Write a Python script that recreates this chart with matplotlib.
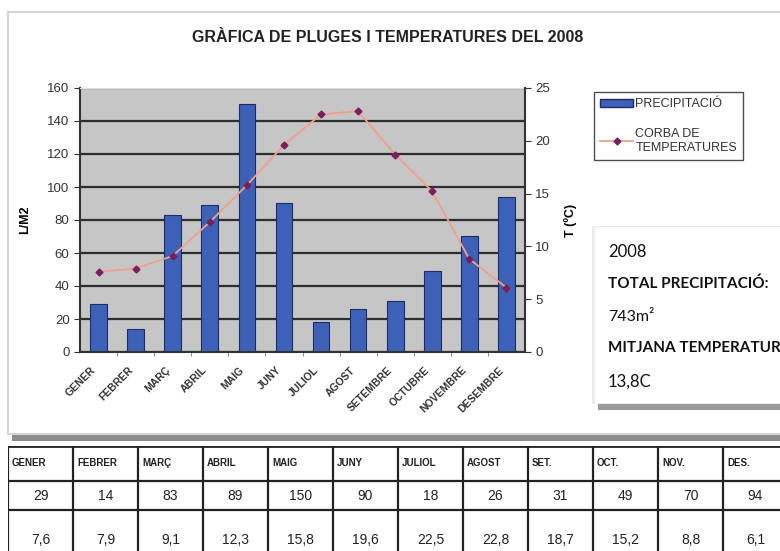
import matplotlib
matplotlib.use("Agg")
import matplotlib.pyplot as plt
import matplotlib.transforms as mtransforms
from matplotlib.patches import Rectangle, Patch
from matplotlib.lines import Line2D

mesos = ["GENER", "FEBRER", "MARÇ", "ABRIL", "MAIG", "JUNY", "JULIOL",
         "AGOST", "SETEMBRE", "OCTUBRE", "NOVEMBRE", "DESEMBRE"]
mesos_taula = ["GENER", "FEBRER", "MARÇ", "ABRIL", "MAIG", "JUNY", "JULIOL",
               "AGOST", "SET.", "OCT.", "NOV.", "DES."]
pluja = [29, 14, 83, 89, 150, 90, 18, 26, 31, 49, 70, 94]
temperatura = [7.6, 7.9, 9.1, 12.3, 15.8, 19.6, 22.5, 22.8, 18.7, 15.2, 8.8, 6.1]
temp_text = ["7,6", "7,9", "9,1", "12,3", "15,8", "19,6", "22,5", "22,8",
             "18,7", "15,2", "8,8", "6,1"]
info = ["2008", "TOTAL PRECIPITACIÓ:", "743m²", "MITJANA TEMPERATURA:", "13,8C"]

plt.rcParams['font.family'] = ['Liberation Sans', 'DejaVu Sans']
W, H = 780, 551
fig = plt.figure(figsize=(W / 100, H / 100), dpi=100)


def fx(px):
    return px / W


def fy(py):
    return 1 - py / H


# chart panel frame and shadow
fig.patches.append(Rectangle((fx(12), fy(441)), fx(775), fy(432) - fy(441),
                             transform=fig.transFigure, facecolor='#8c8c8c',
                             edgecolor='none', zorder=-3))
fig.patches.append(Rectangle((fx(8), fy(434)), fx(780), fy(12) - fy(434),
                             transform=fig.transFigure, facecolor='white',
                             edgecolor='#d4d4d4', lw=1.5, zorder=-2))

fig.text(fx(388), fy(38), "GRÀFICA DE PLUGES I TEMPERATURES DEL 2008",
         ha='center', va='center', fontsize=11.5, fontweight='bold', color='#222222')

ax = fig.add_axes([fx(80), fy(352), fx(525 - 80), fy(88) - fy(352)])
x = list(range(len(mesos)))
ax.set_facecolor('#c6c6c6')
ax.bar(x, pluja, width=0.45, color='#3d61b6', edgecolor='#1c2c66', lw=0.8, zorder=2)
ax.set_xlim(-0.5, 11.5)
ax.set_ylim(0, 160)
ax.set_yticks(range(0, 161, 20))
ax.yaxis.grid(True, color='#2e2e2e', lw=1.6)
ax.set_axisbelow(True)
ax.set_xticks(x)
ax.set_xticklabels([])
shift = mtransforms.ScaledTranslation(-0.08, -0.13, fig.dpi_scale_trans)
for i, m in enumerate(mesos):
    ax.text(i, 0, m, transform=ax.get_xaxis_transform() + shift, rotation=45,
            ha='right', va='top', rotation_mode='anchor', fontsize=7.5,
            fontweight='bold', color='#333333')
ax.set_xticks([i + 0.5 for i in x[:-1]], minor=True)
ax.tick_params(axis='x', which='major', length=0)
ax.tick_params(axis='x', which='minor', length=3, color='#777777')
ax.tick_params(axis='y', labelsize=9.5, length=4, color='#333333', labelcolor='#333333')
ax.set_ylabel("L/M2", fontsize=9, fontweight='bold', labelpad=12)
for s in ['top', 'right']:
    ax.spines[s].set_color('#e0e0e0')
ax.spines['left'].set_color('#333333')
ax.spines['bottom'].set_color('#333333')
ax.spines['left'].set_linewidth(1.5)
ax.spines['bottom'].set_linewidth(1.5)

ax2 = ax.twinx()
ax2.plot(x, temperatura, color='#f0a08e', lw=1.3,
         marker='D', markersize=3.5, markerfacecolor='#7a1f5a', markeredgecolor='#7a1f5a')
ax2.set_ylim(0, 25)
ax2.set_yticks(range(0, 26, 5))
ax2.tick_params(axis='y', labelsize=9.5, length=4, color='#333333', labelcolor='#333333')
ax2.set_ylabel("T (ºC)", fontsize=9, fontweight='bold', labelpad=10, rotation=90)
ax2.spines['right'].set_color('#333333')
ax2.spines['right'].set_linewidth(1.5)
for s in ['top', 'left', 'bottom']:
    ax2.spines[s].set_visible(False)

handles = [Patch(facecolor='#3d61b6', edgecolor='#1c2c66'),
           Line2D([], [], color='#f0a08e', lw=1.3, marker='D', markersize=3.5,
                  markerfacecolor='#7a1f5a', markeredgecolor='#7a1f5a')]
leg = fig.legend(handles, ["PRECIPITACIÓ", "CORBA DE\nTEMPERATURES"],
                 loc='upper left', bbox_to_anchor=(fx(594), fy(92)),
                 fontsize=9, frameon=True, fancybox=False, handlelength=2.6,
                 handletextpad=0.2, borderpad=0.5, labelspacing=1.4,
                 borderaxespad=0)
leg.get_frame().set_edgecolor('#222222')
leg.get_frame().set_linewidth(1.0)
for t in leg.get_texts():
    t.set_color('#333333')

# info box
fig.patches.append(Rectangle((fx(598), fy(410)), fx(190), fy(230) - fy(410),
                             transform=fig.transFigure, facecolor='#9a9a9a',
                             edgecolor='none', zorder=-1))
fig.patches.append(Rectangle((fx(592), fy(404)), fx(190), fy(226) - fy(404),
                             transform=fig.transFigure, facecolor='#ececec',
                             edgecolor='none', zorder=-1))
axi = fig.add_axes([fx(595), fy(403), fx(185), fy(227) - fy(403)])
axi.set_xlim(0, 185)
axi.set_ylim(403, 227)
axi.set_facecolor('white')
for s in axi.spines.values():
    s.set_visible(False)
axi.set_xticks([])
axi.set_yticks([])
ys = [252, 284, 317, 348, 382]
weights = ['normal', 'bold', 'normal', 'bold', 'normal']
sizes = [12, 11, 11.5, 11, 12]
for t, yy, wgt, sz in zip(info, ys, weights, sizes):
    axi.text(13, yy, t, fontsize=sz, fontweight=wgt, va='center', ha='left',
             family=['Lato', 'DejaVu Sans'], color='#111111', clip_on=True)

# table
top, bot = 446, 551
axt = fig.add_axes([fx(8), 0, fx(772), fy(top)])
axt.set_xlim(0, 772 / 65)
axt.set_ylim(bot - top, 0)
axt.axis('off')
rows = [0, 35, 64, 126]
for r in rows:
    axt.plot([0, 13], [r, r], color='#222222', lw=2.0 if r == 0 else 1.6, clip_on=True)
for c in range(13):
    axt.plot([c, c], [0, 130], color='#222222', lw=1.6, clip_on=True)
for i in range(12):
    axt.text(i + 0.06, 17, mesos_taula[i], fontsize=7, fontweight='bold',
             ha='left', va='center', color='#222222', clip_on=True)
    axt.text(i + 0.5, 50, str(pluja[i]), fontsize=10, ha='center', va='center',
             color='#222222', clip_on=True)
    axt.text(i + 0.5, 94, temp_text[i], fontsize=10, ha='center', va='center',
             color='#222222', clip_on=True)

fig.savefig("out.png", dpi=100)
